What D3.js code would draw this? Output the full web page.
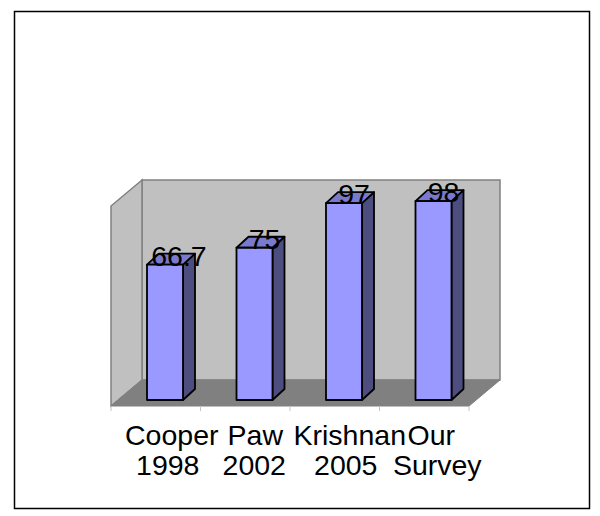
<!DOCTYPE html>
<html><head><meta charset="utf-8">
<script src="https://cdn.jsdelivr.net/npm/d3@7"></script>
<style>html,body{margin:0;padding:0;background:#fff}svg{display:block}text{font-family:"Liberation Sans",Arial,sans-serif;fill:#000}</style>
</head><body><svg id="c" width="600" height="516"></svg>
<script>
const categories = ["Cooper 1998","Paw 2002","Krishnan 2005","Our Survey"];
const labelLines = [["Cooper","1998"],["Paw","2002"],["Krishnan","2005"],["Our","Survey"]];
const values = [66.7,75,97,98];
const valueLabels = ["66.7","75","97","98"];
const yDomain = [0,100];

const svg = d3.select("#c");
svg.append("rect").attr("x",14.5).attr("y",11.5).attr("width",575).attr("height",497)
  .attr("fill","#fff").attr("stroke","#000").attr("stroke-width",1.5);

const plot = {left:111,right:469,floorFront:406,wallTop:206,dx:31,dy:26};
const x = d3.scaleBand().domain(categories).range([plot.left,plot.right]);
const y = d3.scaleLinear().domain(yDomain).range([400,197]);
const barW = 36, barDx = 12, barDy = 11, barShift = 36;
const poly = pts => pts.map(p=>p.join(",")).join(" ");
const {left:L,right:R,floorFront:F,wallTop:T,dx:DX,dy:DY} = plot;

svg.append("polygon").attr("points",poly([[L+DX,T-DY],[R+DX,T-DY],[R+DX,F-DY],[L+DX,F-DY]]))
  .attr("fill","#c0c0c0").attr("stroke","#808080").attr("stroke-width",1.5);
svg.append("polygon").attr("points",poly([[L,T],[L+DX,T-DY],[L+DX,F-DY],[L,F]]))
  .attr("fill","#c0c0c0").attr("stroke","#808080").attr("stroke-width",1.5);
svg.append("polygon").attr("points",poly([[L,F],[R,F],[R+DX,F-DY],[L+DX,F-DY]]))
  .attr("fill","#808080").attr("stroke","#808080").attr("stroke-width",1);

// category ticks
const tickXs = categories.map(c=>x(c)).concat([R]);
svg.append("g").selectAll("line").data(tickXs).join("line")
  .attr("x1",d=>d).attr("x2",d=>d).attr("y1",F).attr("y2",F+5)
  .attr("stroke","#c4c4c4").attr("stroke-width",1);

// bars
const bars = svg.append("g").selectAll("g").data(categories).join("g");
bars.each(function(c,i){
  const g = d3.select(this);
  const x0 = x(c)+barShift, x1 = x0+barW, yt = y(values[i]), yb = y(0);
  const add = (pts,fill)=>g.append("polygon").attr("points",poly(pts)).attr("fill",fill)
    .attr("stroke","#000").attr("stroke-width",1.8).attr("stroke-linejoin","round");
  add([[x1,yt],[x1+barDx,yt-barDy],[x1+barDx,yb-barDy],[x1,yb]],"#4d4d80");
  add([[x0,yt],[x0+barDx,yt-barDy],[x1+barDx,yt-barDy],[x1,yt]],"#7a7acc");
  add([[x0,yt],[x1,yt],[x1,yb],[x0,yb]],"#9999ff");
});

// value labels
const valueDx = [14,10,10,10];
svg.append("g").selectAll("text").data(valueLabels).join("text")
  .attr("x",(d,i)=>x(categories[i])+barShift+barW/2+valueDx[i])
  .attr("y",(d,i)=>y(values[i])+1)
  .attr("text-anchor","middle").attr("font-size",28.5).text(d=>d);

// category labels
const lineOffsets = [[16,12],[10,9],[15,11],[7,13]];
const lineY = [445,475];
const lab = svg.append("g").selectAll("g").data(labelLines).join("g");
lab.each(function(lines,i){
  const cx = x(categories[i])+x.bandwidth()/2;
  d3.select(this).selectAll("text").data(lines).join("text")
    .attr("x",(d,j)=>cx+lineOffsets[i][j]).attr("y",(d,j)=>lineY[j])
    .attr("text-anchor","middle").attr("font-size",28.5).text(d=>d);
});
</script></body></html>
